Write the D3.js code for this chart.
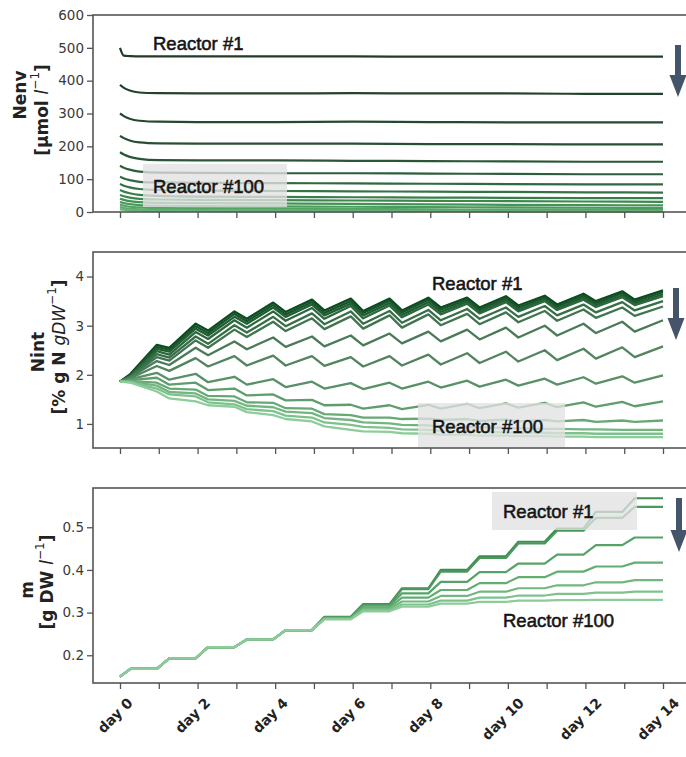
<!DOCTYPE html>
<html>
<head>
<meta charset="utf-8">
<script src="https://cdn.jsdelivr.net/npm/d3@7"></script>
<style>
  body { margin: 0; background: #fff; }
  svg { display: block; }
</style>
</head>
<body>
<script>
// ---- data ----
const dayTicks = [0, 1, 2, 3, 4, 5, 6, 7, 8, 9, 10, 11, 12, 13, 14];
const labelDays = [0, 2, 4, 6, 8, 10, 12, 14];
const dayLabels = ["day 0", "day 2", "day 4", "day 6", "day 8", "day 10", "day 12", "day 14"];

const nenvTicks = [0, 100, 200, 300, 400, 500, 600];
const nintTicks = [1, 2, 3, 4];
const massTicks = [0.2, 0.3, 0.4, 0.5];

// sampling times (days)
const envTimes = [0, 0.1, 0.25, 0.5, 1, 2, 4, 6, 8, 10, 12, 14];
const cycleTimes = [0, 0.27, 0.95, 1.27, 1.95, 2.27, 2.95, 3.27, 3.95, 4.27, 4.95, 5.27, 5.95, 6.27,
  6.95, 7.27, 7.95, 8.27, 8.95, 9.27, 9.95, 10.27, 10.95, 11.27, 11.95, 12.27, 12.95, 13.27, 14];

// Nenv [umol l-1], reactor #1 first
const nenvSeries = [
  [500, 476, 475, 474, 474, 474, 474, 474, 473, 473, 473, 473],
  [387, 378, 370, 364, 362, 361, 361, 362, 361, 361, 360, 360],
  [300, 292, 284, 278, 275, 274, 274, 275, 274, 273, 273, 273],
  [232, 225, 218, 212, 209, 208, 208, 208, 207, 207, 206, 206],
  [182, 175, 168, 162, 158, 157, 157, 156, 155, 154, 153, 153],
  [141, 135, 129, 123, 120, 119, 118, 118, 117, 116, 115, 115],
  [107, 102, 97, 92, 90, 89, 88, 87, 86, 85, 84, 84],
  [85, 80, 75, 70, 67, 65, 64, 63, 62, 61, 60, 59],
  [67, 62, 57, 52, 49, 47, 46, 45, 44, 43, 42, 42],
  [52, 48, 44, 40, 38, 37, 36, 35, 34, 33, 32, 31],
  [40, 37, 33, 30, 28, 27, 26, 25, 23, 22, 21, 20],
  [30, 27, 24, 21, 19, 18, 17, 16, 15, 14, 13, 12],
  [22, 19, 16, 14, 12, 11, 10, 9, 8, 7, 7, 6],
  [15, 12, 10, 8, 7, 6, 5, 5, 4, 4, 3, 3],
  [9, 7, 5, 4, 3, 3, 2, 2, 2, 1, 1, 1]
];

// Nint [% g N gDW-1] at cycleTimes, reactor #1 first
const nintSeries = [
  [1.86, 2.02, 2.61, 2.55, 3.04, 2.90, 3.29, 3.14, 3.47, 3.28, 3.53, 3.31, 3.55, 3.30, 3.55, 3.31, 3.57, 3.37, 3.57, 3.37, 3.60, 3.41, 3.61, 3.43, 3.65, 3.50, 3.70, 3.53, 3.72],
  [1.86, 2.00, 2.57, 2.51, 2.99, 2.85, 3.24, 3.09, 3.42, 3.23, 3.48, 3.26, 3.50, 3.26, 3.51, 3.27, 3.53, 3.33, 3.53, 3.33, 3.56, 3.37, 3.57, 3.39, 3.61, 3.46, 3.66, 3.49, 3.68],
  [1.86, 1.99, 2.53, 2.47, 2.94, 2.80, 3.18, 3.04, 3.37, 3.18, 3.43, 3.21, 3.45, 3.21, 3.46, 3.22, 3.48, 3.28, 3.49, 3.29, 3.52, 3.33, 3.53, 3.35, 3.57, 3.42, 3.62, 3.45, 3.64],
  [1.86, 1.98, 2.48, 2.41, 2.87, 2.73, 3.11, 2.96, 3.29, 3.10, 3.36, 3.14, 3.40, 3.15, 3.41, 3.17, 3.43, 3.23, 3.45, 3.25, 3.48, 3.29, 3.50, 3.32, 3.53, 3.38, 3.58, 3.42, 3.60],
  [1.86, 1.97, 2.42, 2.35, 2.78, 2.63, 3.01, 2.86, 3.18, 2.99, 3.25, 3.03, 3.29, 3.04, 3.30, 3.06, 3.32, 3.11, 3.34, 3.14, 3.37, 3.18, 3.40, 3.21, 3.43, 3.27, 3.48, 3.31, 3.50],
  [1.86, 1.96, 2.36, 2.29, 2.70, 2.55, 2.92, 2.77, 3.08, 2.89, 3.15, 2.93, 3.19, 2.94, 3.21, 2.96, 3.23, 3.01, 3.24, 3.03, 3.27, 3.07, 3.30, 3.10, 3.33, 3.16, 3.37, 3.20, 3.39],
  [1.86, 1.95, 2.28, 2.20, 2.55, 2.40, 2.68, 2.52, 2.76, 2.57, 2.78, 2.58, 2.80, 2.60, 2.84, 2.64, 2.88, 2.68, 2.92, 2.72, 2.96, 2.76, 3.00, 2.80, 3.04, 2.85, 3.08, 2.88, 3.11],
  [1.86, 1.93, 2.18, 2.08, 2.34, 2.17, 2.38, 2.19, 2.39, 2.19, 2.38, 2.18, 2.36, 2.17, 2.38, 2.19, 2.41, 2.21, 2.44, 2.24, 2.47, 2.27, 2.50, 2.30, 2.53, 2.33, 2.56, 2.36, 2.58],
  [1.86, 1.91, 2.04, 1.90, 2.02, 1.85, 1.96, 1.80, 1.91, 1.75, 1.86, 1.72, 1.83, 1.71, 1.84, 1.72, 1.86, 1.74, 1.88, 1.76, 1.90, 1.78, 1.92, 1.80, 1.95, 1.82, 1.97, 1.84, 1.99],
  [1.86, 1.89, 1.94, 1.80, 1.84, 1.69, 1.72, 1.58, 1.60, 1.48, 1.49, 1.38, 1.39, 1.31, 1.38, 1.30, 1.39, 1.31, 1.41, 1.32, 1.42, 1.33, 1.43, 1.34, 1.44, 1.35, 1.45, 1.36, 1.46],
  [1.86, 1.87, 1.84, 1.72, 1.70, 1.57, 1.56, 1.44, 1.43, 1.32, 1.31, 1.20, 1.18, 1.13, 1.13, 1.10, 1.11, 1.08, 1.10, 1.06, 1.09, 1.05, 1.08, 1.05, 1.08, 1.04, 1.07, 1.04, 1.07],
  [1.86, 1.86, 1.78, 1.65, 1.62, 1.50, 1.47, 1.37, 1.34, 1.25, 1.22, 1.12, 1.08, 1.03, 1.01, 0.98, 0.97, 0.95, 0.94, 0.93, 0.92, 0.91, 0.90, 0.90, 0.89, 0.89, 0.88, 0.88, 0.88],
  [1.86, 1.85, 1.72, 1.60, 1.56, 1.44, 1.40, 1.30, 1.26, 1.17, 1.13, 1.03, 0.98, 0.94, 0.92, 0.89, 0.88, 0.86, 0.85, 0.84, 0.83, 0.82, 0.82, 0.81, 0.81, 0.80, 0.80, 0.80, 0.80],
  [1.86, 1.84, 1.66, 1.52, 1.46, 1.38, 1.35, 1.24, 1.18, 1.10, 1.05, 0.95, 0.88, 0.85, 0.84, 0.81, 0.80, 0.78, 0.78, 0.76, 0.76, 0.75, 0.75, 0.74, 0.74, 0.73, 0.73, 0.73, 0.73]
];

// m [g DW l-1]: level held after each daily step (day 0 .. day 14), reactor #1 first
const massLevels = [
  [0.150, 0.168, 0.193, 0.219, 0.237, 0.259, 0.290, 0.320, 0.357, 0.400, 0.432, 0.466, 0.497, 0.536, 0.568],
  [0.150, 0.168, 0.193, 0.219, 0.237, 0.259, 0.289, 0.319, 0.355, 0.396, 0.428, 0.462, 0.492, 0.522, 0.548],
  [0.150, 0.168, 0.193, 0.219, 0.237, 0.259, 0.288, 0.316, 0.345, 0.372, 0.395, 0.415, 0.436, 0.458, 0.476],
  [0.150, 0.168, 0.193, 0.219, 0.237, 0.259, 0.287, 0.312, 0.335, 0.353, 0.369, 0.383, 0.396, 0.408, 0.417],
  [0.150, 0.168, 0.193, 0.219, 0.237, 0.259, 0.286, 0.309, 0.326, 0.339, 0.349, 0.357, 0.364, 0.371, 0.376],
  [0.150, 0.168, 0.193, 0.219, 0.237, 0.259, 0.285, 0.306, 0.319, 0.328, 0.335, 0.340, 0.344, 0.347, 0.349],
  [0.150, 0.168, 0.193, 0.219, 0.237, 0.259, 0.284, 0.303, 0.314, 0.321, 0.325, 0.328, 0.329, 0.330, 0.330]
];
// each level is held over two sampling times of cycleTimes
const massSeries = massLevels.map(lv => cycleTimes.map((t, i) => lv[Math.ceil(i / 2)]));

// ---- drawing ----
const W = 686, H = 757;
const svg = d3.select("body").append("svg").attr("width", W).attr("height", H);

const x = d3.scaleLinear().domain([0, 14]).range([120, 663]);

const panels = [
  { top: 15, bottom: 212, domain: [0, 600], ticks: nenvTicks, fmt: d3.format("d"),
    series: nenvSeries, times: envTimes, curve: d3.curveMonotoneX,
    colors: ["#203c29", "#2c5a3a", "#3d8c50", "#66b377"], width: 2.2 },
  { top: 252, bottom: 448, domain: [0.51, 4.5], ticks: nintTicks, fmt: d3.format("d"),
    series: nintSeries, times: cycleTimes, curve: d3.curveLinear,
    colors: ["#0c4a1f", "#2f6b40", "#4f7e5d", "#62a672", "#8ccd99"], width: 2.3 },
  { top: 488, bottom: 683, domain: [0.135, 0.592], ticks: massTicks, fmt: d3.format(".1f"),
    series: massSeries, times: cycleTimes, curve: d3.curveLinear,
    colors: ["#3f8d52", "#62ad72", "#8ecb9a"], width: 2.2 }
];

panels.forEach(p => {
  const y = d3.scaleLinear().domain(p.domain).range([p.bottom, p.top]);
  const n = p.series.length;
  const color = d3.scaleLinear()
    .domain(p.colors.map((c, i) => i * (n - 1) / (p.colors.length - 1)))
    .range(p.colors);

  const line = d3.line()
    .x((d, i) => x(p.times[i]))
    .y(d => y(d))
    .curve(p.curve);

  svg.append("g")
    .selectAll("path")
    .data(p.series)
    .join("path")
    .attr("d", line)
    .attr("fill", "none")
    .attr("stroke", (d, i) => color(i))
    .attr("stroke-width", p.width)
    .attr("stroke-linejoin", "round");

  // frame (right edge is outside the picture)
  svg.append("rect")
    .attr("x", 93).attr("y", p.top)
    .attr("width", 640).attr("height", p.bottom - p.top)
    .attr("fill", "none").attr("stroke", "#555").attr("stroke-width", 1.6);

  const gy = svg.append("g").attr("transform", "translate(93,0)")
    .call(d3.axisLeft(y).tickValues(p.ticks).tickSize(6).tickPadding(3).tickFormat(p.fmt));
  gy.select(".domain").remove();
  gy.selectAll("line").attr("stroke", "#555").attr("stroke-width", 1.3);
  gy.selectAll("text").attr("font-family", "DejaVu Sans").attr("font-size", 13.5).attr("fill", "#3a3a3a");

  const gx = svg.append("g").attr("transform", `translate(0,${p.bottom})`)
    .call(d3.axisBottom(x).tickValues(dayTicks).tickSize(6).tickFormat(""));
  gx.select(".domain").remove();
  gx.selectAll("line").attr("stroke", "#555").attr("stroke-width", 1.3);
});

// rotated day labels under the bottom panel
svg.append("g")
  .selectAll("text")
  .data(labelDays)
  .join("text")
  .attr("font-family", "DejaVu Sans")
  .attr("font-weight", "bold")
  .attr("font-size", 14)
  .attr("fill", "#222")
  .attr("text-anchor", "middle")
  .attr("dominant-baseline", "central")
  .text((d, i) => dayLabels[i])
  .each(function (d) {
    const w = this.getComputedTextLength();
    const off = (w + 12) * 0.3536;
    d3.select(this).attr("transform", `translate(${x(d) - 5},${696 + off}) rotate(-45)`);
  });

// y-axis titles
function yTitle(cx, cy, parts) {
  const t = svg.append("text")
    .attr("transform", `translate(${cx},${cy}) rotate(-90)`)
    .attr("text-anchor", "middle")
    .attr("dominant-baseline", "central")
    .attr("font-family", "DejaVu Sans")
    .attr("font-weight", "bold")
    .attr("font-size", 17)
    .attr("fill", "#222");
  parts.forEach(pt => {
    const s = t.append("tspan").text(pt.t);
    if (pt.it) s.attr("font-style", "italic").attr("font-weight", "normal");
    if (pt.sup) s.attr("font-size", 12).attr("font-weight", "normal").attr("dy", -7);
    if (pt.after) s.attr("dy", 7);
  });
}
yTitle(20, 95, [{ t: "Nenv" }]);
yTitle(42, 110, [{ t: "[μmol " }, { t: "l", it: true }, { t: "−1", sup: true }, { t: "]", after: true }]);
yTitle(38, 352, [{ t: "Nint" }]);
yTitle(59, 347, [{ t: "[% g N " }, { t: "gDW", it: true }, { t: "−1", sup: true }, { t: "]", after: true }]);
yTitle(27, 590, [{ t: "m" }]);
yTitle(47, 582, [{ t: "[g DW " }, { t: "l", it: true }, { t: "−1", sup: true }, { t: "]", after: true }]);

// translucent boxes behind some labels
const boxes = [
  { x: 143, y: 164, w: 144, h: 43 },
  { x: 418, y: 403, w: 147, h: 44 },
  { x: 492, y: 492, w: 145, h: 38 }
];
svg.append("g").selectAll("rect").data(boxes).join("rect")
  .attr("x", d => d.x).attr("y", d => d.y).attr("width", d => d.w).attr("height", d => d.h)
  .attr("fill", "#e2e2e2").attr("opacity", 0.78);

const notes = [
  { t: "Reactor #1", x: 153, y: 50 },
  { t: "Reactor #100", x: 153, y: 193 },
  { t: "Reactor #1", x: 432, y: 290 },
  { t: "Reactor #100", x: 432, y: 433 },
  { t: "Reactor #1", x: 503, y: 518 },
  { t: "Reactor #100", x: 503, y: 627 }
];
svg.append("g").selectAll("text").data(notes).join("text")
  .attr("x", d => d.x).attr("y", d => d.y)
  .attr("font-family", "Liberation Sans")
  .attr("font-size", 18.5)
  .attr("fill", "#151515")
  .attr("stroke", "#151515")
  .attr("stroke-width", 0.55)
  .text(d => d.t);

// down arrows
const arrows = [
  { cx: 678, top: 45, tip: 97 },
  { cx: 676, top: 288, tip: 340 },
  { cx: 679, top: 498, tip: 552 }
];
svg.append("g").selectAll("path").data(arrows).join("path")
  .attr("d", a => `M${a.cx - 3},${a.top}L${a.cx + 3},${a.top}L${a.cx + 3},${a.tip - 22}L${a.cx + 8.5},${a.tip - 22}L${a.cx},${a.tip}L${a.cx - 8.5},${a.tip - 22}L${a.cx - 3},${a.tip - 22}Z`)
  .attr("fill", "#44546a");
</script>
</body>
</html>
